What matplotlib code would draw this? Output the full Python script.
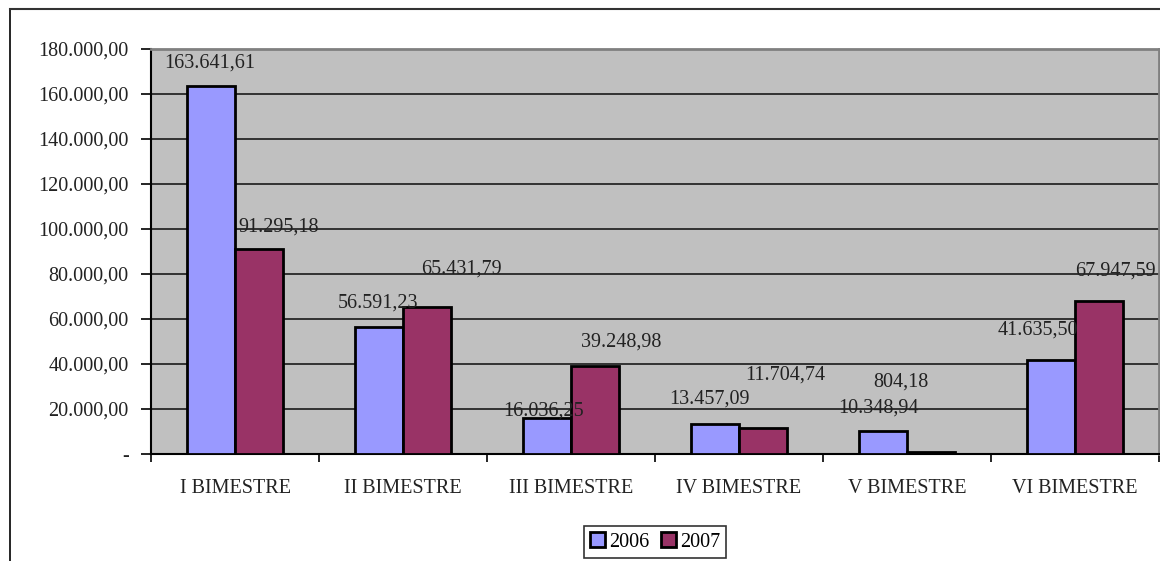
import matplotlib
matplotlib.use("Agg")
import matplotlib.pyplot as plt
import numpy as np

categories = ["I BIMESTRE", "II BIMESTRE", "III BIMESTRE", "IV BIMESTRE", "V BIMESTRE", "VI BIMESTRE"]
series_names = ["2006", "2007"]
values_2006 = [163641.61, 56591.23, 16036.25, 13457.09, 10348.94, 41635.50]
values_2007 = [91295.18, 65431.79, 39248.98, 11704.74, 804.18, 67947.59]
y_ticks = [0, 20000, 40000, 60000, 80000, 100000, 120000, 140000, 160000, 180000]

# label offsets (pixels) relative to top centre of each bar
off_2006 = [(-1, 23), (-1, 24), (-3, 7), (-6, 25), (-5, 23), (-13, 30)]
off_2007 = [(20, 22), (34, 38), (26, 24), (22, 53), (-30, 70), (16, 30)]

def fmt(v):
    s = f"{v:,.2f}"
    return s.replace(",", "X").replace(".", ",").replace("X", ".")

def fmt_tick(v):
    return "-" if v == 0 else fmt(v)

plt.rcParams['font.family'] = ['Liberation Serif', 'DejaVu Serif']
FS = 14.5
W, H = 1160, 561
fig = plt.figure(figsize=(W / 100, H / 100), dpi=100)
fig.patch.set_facecolor("white")

# outer chart border (left and top visible)
fig.add_artist(plt.Line2D([10 / W, 10 / W], [0, 1 - 9 / H], transform=fig.transFigure, color="black", lw=1.2))
fig.add_artist(plt.Line2D([10 / W, 1], [1 - 9 / H, 1 - 9 / H], transform=fig.transFigure, color="#333333", lw=1.5))

ax = fig.add_axes([151 / W, (H - 454) / H, (1159 - 151) / W, (454 - 49) / H])
ax.set_facecolor("#C0C0C0")

x = np.arange(len(categories))
w = 1 / 3.5
b1 = ax.bar(x - w / 2, values_2006, w, color="#9999FF", edgecolor="black", linewidth=2, label=series_names[0], zorder=3)
b2 = ax.bar(x + w / 2, values_2007, w, color="#993366", edgecolor="black", linewidth=2, label=series_names[1], zorder=3)

ax.set_xlim(-0.5, len(categories) - 0.5)
ax.set_ylim(0, 180000)
ax.set_yticks(y_ticks)
ax.set_yticklabels([fmt_tick(v) for v in y_ticks], fontsize=FS, color="#222222")
ax.yaxis.grid(True, color="#1a1a1a", lw=1.2, zorder=1)
ax.set_axisbelow(True)

ax.set_xticks(x)
ax.set_xticklabels(categories, fontsize=FS, color="#222222")
ax.tick_params(axis="x", length=0, pad=18)
ax.set_xticks(np.arange(len(categories) + 1) - 0.5, minor=True)
ax.tick_params(axis="x", which="minor", length=6, width=1.2, direction="out")
ax.tick_params(axis="y", length=7, width=1.2, direction="out", pad=9)

for s in ["left", "bottom"]:
    ax.spines[s].set_color("black")
    ax.spines[s].set_linewidth(1.5)
for s in ["top", "right"]:
    ax.spines[s].set_color("#808080")
    ax.spines[s].set_linewidth(2)

for bars, vals, offs in [(b1, values_2006, off_2006), (b2, values_2007, off_2007)]:
    for bar, v, (dx, dy) in zip(bars, vals, offs):
        ax.annotate(fmt(v), xy=(bar.get_x() + bar.get_width() / 2, v),
                    xytext=(dx, dy), textcoords="offset pixels",
                    ha="center", va="center", fontsize=FS, color="#222222", zorder=5)

leg = fig.legend(handles=[b1, b2], labels=series_names, loc="center",
                 bbox_to_anchor=(655 / W, 1 - 542 / H), ncol=2, fontsize=FS,
                 frameon=True, fancybox=False, edgecolor="black",
                 handlelength=0.75, handleheight=0.75, handletextpad=0.2,
                 columnspacing=0.6, borderpad=0.3, borderaxespad=0)
leg.get_frame().set_linewidth(1.2)

fig.savefig("out.png", dpi=100, facecolor="white")
